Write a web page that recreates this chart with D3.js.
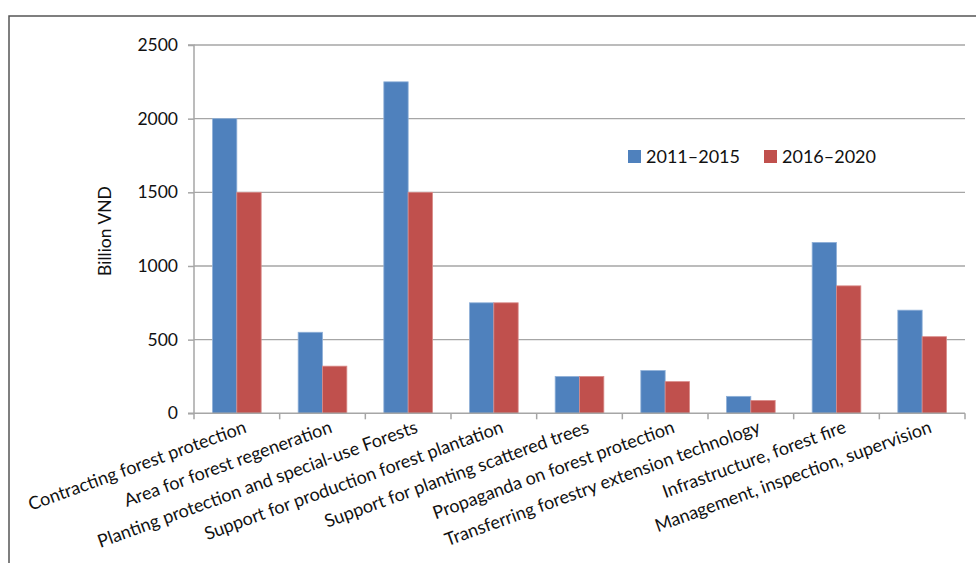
<!DOCTYPE html>
<html><head><meta charset="utf-8">
<script src="https://cdn.jsdelivr.net/npm/d3@7"></script>
<style>
body{margin:0;background:#fff;}
svg{display:block;font-family:Lato, "Open Sans", sans-serif;}
</style></head>
<body><svg id="c" width="976" height="563"></svg>
<script>
const categories = ["Contracting forest protection","Area for forest regeneration","Planting protection and special-use Forests","Support for production forest plantation","Support for planting scattered trees","Propaganda on forest protection","Transferring forestry extension technology","Infrastructure, forest fire","Management, inspection, supervision"];
const seriesNames = ["2011–2015","2016–2020"];
const values2011_2015 = [2000,550,2250,750,250,290,115,1160,700];
const values2016_2020 = [1500,320,1500,750,250,215,87,865,520];
const yTicks = [0,500,1000,1500,2000,2500];
const colors = ["#4F81BD","#C0504D"];

const svg = d3.select("#c");
const m = {left:194, right:965, top:45, bottom:413.3};

svg.append("rect").attr("x",9).attr("y",16).attr("width",1000).attr("height",600)
  .attr("fill","none").attr("stroke","#555").attr("stroke-width",1.5);

const x0 = d3.scaleBand().domain(categories).range([m.left,m.right]).paddingInner(0).paddingOuter(0);
const x1 = d3.scaleBand().domain(seriesNames).range([0,x0.bandwidth()]).paddingInner(0).paddingOuter(0.76);
const y = d3.scaleLinear().domain([0,2500]).range([m.bottom,m.top]);

// gridlines
svg.append("g").selectAll("line").data(yTicks.filter(d=>d>0)).join("line")
  .attr("x1",m.left).attr("x2",m.right).attr("y1",d=>y(d)).attr("y2",d=>y(d))
  .attr("stroke","#a6a6a6").attr("stroke-width",1.3);

// bars
const data = categories.map((c,i)=>({c, vals:[values2011_2015[i],values2016_2020[i]]}));
const g = svg.append("g").selectAll("g").data(data).join("g").attr("transform",d=>`translate(${x0(d.c)},0)`);
g.selectAll("rect").data(d=>d.vals.map((v,j)=>({v,s:seriesNames[j],j}))).join("rect")
  .attr("x",d=>x1(d.s)).attr("width",x1.bandwidth())
  .attr("y",d=>y(d.v)).attr("height",d=>y(0)-y(d.v))
  .attr("fill",d=>colors[d.j]).attr("stroke",d=>d.j?"#d98a88":"#8fb0d8").attr("stroke-width",0.8);

// y axis
const yAxis = d3.axisLeft(y).tickValues(yTicks).tickSize(6).tickPadding(10).tickFormat(d3.format("d"));
const ya = svg.append("g").attr("transform",`translate(${m.left},0)`).call(yAxis);
ya.select(".domain").attr("stroke","#a6a6a6").attr("stroke-width",1.5).attr("d",`M-6,${m.top}H0V${m.bottom}H-6`);
ya.selectAll(".tick line").attr("stroke","#a6a6a6").attr("stroke-width",1.5);
ya.selectAll(".tick text").attr("font-size",17.5).attr("fill","#111").attr("font-family","Lato, sans-serif");

// x axis
const xa = svg.append("g").attr("transform",`translate(0,${m.bottom})`);
xa.append("line").attr("x1",m.left).attr("x2",m.right).attr("stroke","#a6a6a6").attr("stroke-width",1.5);
const bounds = d3.range(categories.length+1).map(i=>m.left+i*x0.bandwidth());
xa.selectAll("line.t").data(bounds).join("line").attr("class","t")
  .attr("x1",d=>d).attr("x2",d=>d).attr("y1",0).attr("y2",6).attr("stroke","#a6a6a6").attr("stroke-width",1.5);
xa.selectAll("text").data(categories).join("text")
  .attr("transform",d=>`translate(${x0(d)+x0.bandwidth()/2+6},${6}) rotate(-20)`)
  .attr("text-anchor","end").attr("dy","0.75em").attr("font-size",18).attr("fill","#111")
  .text(d=>d);

// y title
svg.append("text").attr("transform",`translate(105,231) rotate(-90)`).attr("text-anchor","middle")
  .attr("dy","0.35em").attr("font-size",17.5).attr("fill","#111").text("Billion VND");

// legend
const lg = svg.append("g");
const lx = [628,764];
seriesNames.forEach((s,i)=>{
  lg.append("rect").attr("x",lx[i]).attr("y",150).attr("width",13).attr("height",13).attr("fill",colors[i]);
  lg.append("text").attr("x",lx[i]+18).attr("y",157).attr("dy","0.35em").attr("font-size",18).attr("fill","#111").text(s);
});
</script></body></html>
